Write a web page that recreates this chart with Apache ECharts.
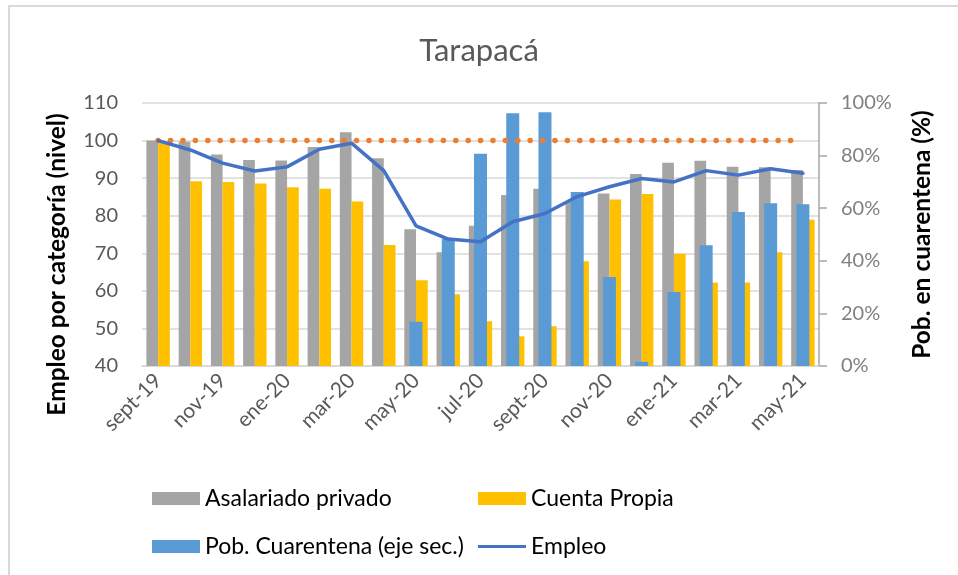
<!DOCTYPE html>
<html>
<head>
<meta charset="utf-8">
<title>Tarapacá</title>
<script src="https://cdn.jsdelivr.net/npm/echarts@6/dist/echarts.min.js"></script>
<style>
  html, body { margin: 0; padding: 0; background: #fff; }
  .frame {
    position: absolute; left: 8px; top: 5px; width: 960px; height: 580px;
    border-top: 2px solid #d9d9d9; border-left: 2px solid #d9d9d9;
  }
  #container { position: absolute; left: 0; top: 0; width: 958px; height: 575px; }
</style>
</head>
<body>
<div class="frame"></div>
<div id="container"></div>
<script>
const meses = ['sept-19', 'oct-19', 'nov-19', 'dic-19', 'ene-20', 'feb-20', 'mar-20', 'abr-20',
  'may-20', 'jun-20', 'jul-20', 'ago-20', 'sept-20', 'oct-20', 'nov-20', 'dic-20',
  'ene-21', 'feb-21', 'mar-21', 'abr-21', 'may-21']

const asalariado = [100, 99.7, 96.3, 94.8, 94.7, 98.3, 102.2, 95.3, 76.4, 70.3, 77.3, 85.5,
  87.2, 83.7, 85.9, 91.1, 94.1, 94.6, 93.0, 92.9, 92.2]
const cuentaPropia = [99.5, 89.2, 89.0, 88.6, 87.6, 87.2, 83.8, 72.2, 62.8, 59.1, 51.9, 47.9,
  50.6, 67.9, 84.3, 85.8, 69.9, 62.2, 62.2, 70.3, 78.9]
// proporción de la población en cuarentena (eje secundario)
const cuarentena = [null, null, null, null, null, null, null, null, 0.168, 0.483, 0.807, 0.961,
  0.965, 0.662, 0.338, 0.016, 0.281, 0.459, 0.586, 0.619, 0.615]
const empleo = [100, 97.5, 94.0, 91.9, 93.0, 97.7, 99.3, 92.0, 77.3, 73.8, 73.1, 78.4,
  80.6, 85.1, 87.7, 89.9, 89.0, 92.0, 90.8, 92.5, 91.3]
const base = [100, 100, 100, 100, 100, 100, 100, 100, 100, 100, 100, 100,
  100, 100, 100, 100, 100, 100, 100, 100, 100]

const fuente = 'Lato'
const gris = '#595959'

const option = {
  animation: false,
  textStyle: { fontFamily: fuente },
  title: {
    text: 'Tarapacá',
    left: 'center',
    top: 30,
    textStyle: { fontFamily: fuente, fontSize: 31, fontWeight: 'normal', color: gris }
  },
  legend: [
    { data: ['Asalariado privado'], left: 147, top: 482 },
    { data: ['Cuenta Propia'], left: 473, top: 482 },
    { data: ['Pob. Cuarentena (eje sec.)'], left: 147, top: 530 },
    { data: [{ name: 'Empleo', icon: 'rect', itemStyle: { color: '#4472C4' } }], left: 473, top: 530, itemHeight: 3 }
  ].map(l => Object.assign({
    icon: 'rect',
    itemWidth: 48,
    itemHeight: 13,
    itemGap: 6,
    textStyle: { fontFamily: fuente, fontSize: 23, color: '#000' }
  }, l)),
  grid: { left: 142, right: 139, top: 103, bottom: 209 },
  xAxis: [
    {
      type: 'category',
      data: meses,
      axisTick: { show: false },
      axisLine: { lineStyle: { color: '#d9d9d9', width: 1.5 } },
      axisLabel: { interval: 1, rotate: 45, margin: 11, fontSize: 21, color: gris, fontFamily: fuente }
    },
    { type: 'category', data: meses, show: false }
  ],
  yAxis: [
    {
      type: 'value',
      min: 40,
      max: 110,
      interval: 10,
      name: 'Empleo por categoría (nivel)',
      nameLocation: 'middle',
      nameRotate: 90,
      nameGap: 72,
      nameTextStyle: {
        fontFamily: fuente, fontSize: 24.5, fontWeight: 'bold', color: '#000',
        padding: [0, 60, 0, 0]
      },
      axisLine: { show: false },
      axisTick: { show: false },
      splitLine: { lineStyle: { color: '#d9d9d9', width: 1.5 } },
      axisLabel: { margin: 24, fontSize: 20, color: gris, fontFamily: fuente }
    },
    {
      type: 'value',
      min: 0,
      max: 1,
      interval: 0.2,
      name: 'Pob. en cuarentena (%)',
      nameLocation: 'middle',
      nameRotate: 90,
      nameGap: 91,
      nameTextStyle: { fontFamily: fuente, fontSize: 24.5, fontWeight: 'bold', color: '#000' },
      axisLine: { show: true, lineStyle: { color: '#a6a6a6', width: 1.5 } },
      axisTick: { show: true, inside: false, length: 8, lineStyle: { color: '#a6a6a6', width: 1.5 } },
      splitLine: { show: false },
      axisLabel: {
        margin: 22, fontSize: 20, color: '#808080', fontFamily: fuente,
        formatter: v => Math.round(v * 100) + '%'
      }
    }
  ],
  series: [
    {
      name: 'Asalariado privado',
      type: 'bar',
      data: asalariado,
      barWidth: 11.7,
      barGap: '0%',
      itemStyle: { color: '#A5A5A5' },
      z: 2
    },
    {
      name: 'Cuenta Propia',
      type: 'bar',
      data: cuentaPropia,
      barWidth: 11.7,
      barGap: '0%',
      itemStyle: { color: '#FFC000' },
      z: 2
    },
    {
      name: 'Pob. Cuarentena (eje sec.)',
      type: 'bar',
      xAxisIndex: 1,
      yAxisIndex: 1,
      data: cuarentena,
      barWidth: 13,
      itemStyle: { color: '#5B9BD5' },
      z: 3
    },
    {
      name: 'base',
      type: 'line',
      data: base,
      symbol: 'none',
      lineStyle: { color: '#ED7D31', width: 5.5, type: [0.1, 12.3], cap: 'round' },
      z: 4
    },
    {
      name: 'Empleo',
      type: 'line',
      data: empleo,
      symbol: 'none',
      lineStyle: { color: '#4472C4', width: 3.5, cap: 'round', join: 'round' },
      z: 5
    }
  ]
}

const myChart = echarts.init(document.getElementById('container'))
myChart.setOption(option)
</script>
</body>
</html>
